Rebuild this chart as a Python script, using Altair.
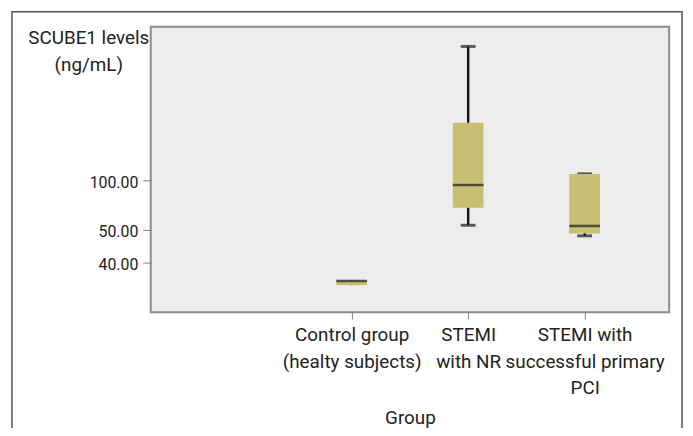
import altair as alt
import pandas as pd

# --- data ---
groups = ["Control group|(healty subjects)", "STEMI|with NR", "STEMI with|successful primary|PCI"]
whisker_low = [33.24, 54.7, 48.2]
q1 = [33.24, 72.4, 48.9]
median = [34.5, 95.5, 54.0]
q3 = [34.66, 158.5, 106.6]
whisker_high = [34.66, 236.0, 106.8]
y_ticks = [40, 50, 100]

df = pd.DataFrame({
    "group": groups,
    "lo": whisker_low,
    "q1": q1,
    "median": median,
    "q3": q3,
    "hi": whisker_high,
})

FONT = "Roboto"
TXT = "#222222"

# the reference axis is non-uniform: piecewise linear scale
yscale = alt.Scale(domain=[25, 40, 50, 256], range=[288, 238.3, 205, 0], nice=False, zero=False)
xscale = alt.Scale(type="point", domain=[""] + groups, padding=0.7255)

xenc = alt.X(
    "group:N",
    scale=xscale,
    sort=None,
    title="Group",
    axis=alt.Axis(
        values=groups,
        labelExpr="split(datum.label, '|')",
        labelAngle=0,
        labelAlign="center",
        labelBaseline="top",
        labelPadding=7,
        labelLineHeight=26.7,
        labelFont=FONT,
        labelFontSize=19,
        labelColor=TXT,
        tickSize=7,
        tickColor="#808080",
        domain=False,
        titleFont=FONT,
        titleFontSize=19,
        titleFontWeight="normal",
        titleColor=TXT,
        titleBaseline="top",
        titleY=97,
    ),
)

yaxis = alt.Axis(
    values=y_ticks,
    format=".2f",
    labelFont=FONT,
    labelFontSize=16,
    labelColor=TXT,
    labelPadding=5,
    labelOffset=2,
    tickSize=8,
    tickColor="#808080",
    domain=False,
    grid=False,
    titleAngle=0,
    titleAlign="center",
    titleBaseline="top",
    titleX=-63,
    titleY=2,
    titleFont=FONT,
    titleFontSize=19,
    titleFontWeight="normal",
    titleColor=TXT,
    titleLineHeight=27,
)

base = alt.Chart(df)

whisker = base.mark_rule(color="#1a1a1a", strokeWidth=2.5).encode(
    x=xenc,
    y=alt.Y("lo:Q", scale=yscale, axis=yaxis, title=["SCUBE1 levels", "(ng/mL)"]),
    y2="hi:Q",
)
cap_lo = base.transform_filter("datum.lo < datum.q1").mark_tick(
    color="#1a1a1a", thickness=3, size=15
).encode(x=xenc, y=alt.Y("lo:Q", scale=yscale))
cap_hi = base.transform_filter("datum.hi > datum.q3").mark_tick(
    color="#1a1a1a", thickness=3, size=15
).encode(x=xenc, y=alt.Y("hi:Q", scale=yscale))
box = base.mark_bar(color="#c9bf72", size=31).encode(
    x=xenc, y=alt.Y("q1:Q", scale=yscale), y2="q3:Q"
)
med = base.mark_tick(color="#1a1a1a", thickness=2.5, size=31).encode(
    x=xenc, y=alt.Y("median:Q", scale=yscale)
)

frame = alt.Chart(pd.DataFrame({"k": [0]})).mark_rect(
    fillOpacity=0, stroke="#555555", strokeWidth=1.5
).encode(
    x=alt.value(-140), x2=alt.value(536), y=alt.value(-15), y2=alt.value(410)
)

chart = alt.layer(frame, whisker, cap_lo, cap_hi, box, med).properties(
    width=523,
    height=288,
    autosize="none",
    padding={"left": 144, "top": 17, "right": 16, "bottom": 115},
    background="white",
).configure_view(
    fill="#ededed", stroke="#8c8c8c", strokeWidth=2
)

chart.save("out.html", embed_options={"renderer": "svg", "actions": False})
